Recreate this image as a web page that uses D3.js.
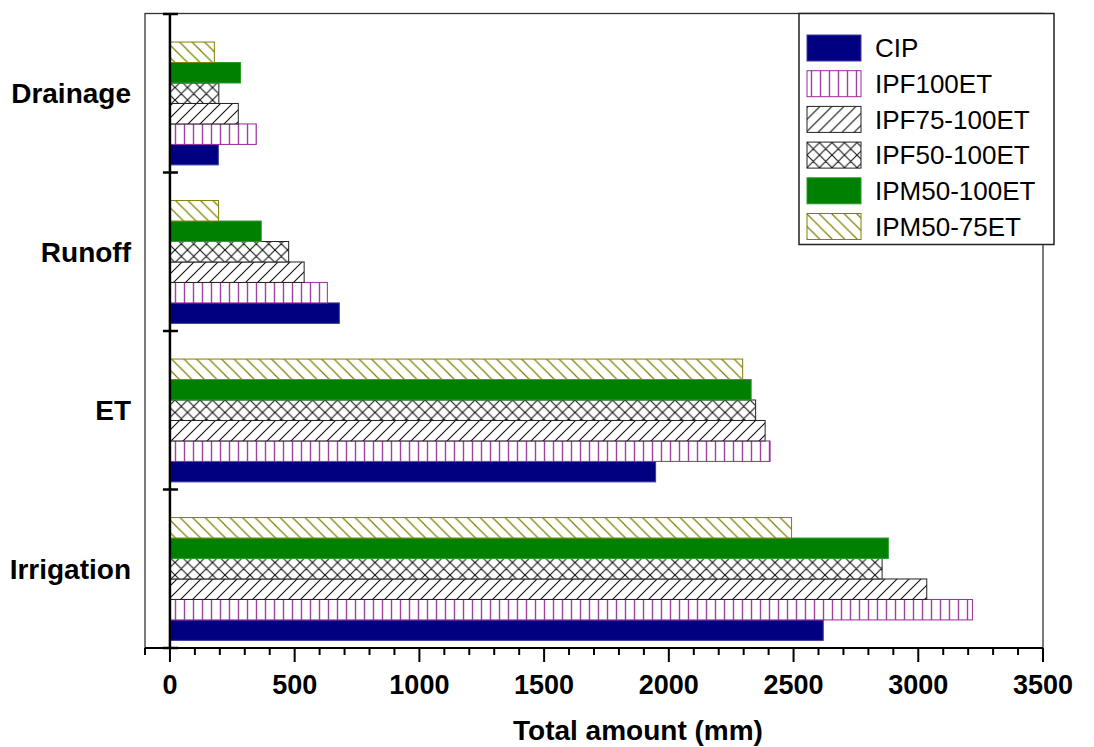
<!DOCTYPE html>
<meta charset="utf-8">
<style>
  body { margin: 0; background: white; }
  text { font-family: "Liberation Sans", Arial, sans-serif; }
  .tickLabel { font-size: 27px; font-weight: bold; }
  .axisTitle { font-size: 28px; font-weight: bold; }
  .catLabel { font-size: 28px; font-weight: bold; }
  .legendText { font-size: 26px; }
</style>
<body>
<script src="https://d3js.org/d3.v7.min.js"></script>
<script>

// categories, bottom to top as in the original plot
var categories = ["Irrigation", "ET", "Runoff", "Drainage"];

// values (mm) per category, same order as categories
var CIP         = [2619, 1947, 679, 194];
var IPF100ET    = [3217, 2406, 631, 346];
var IPF75_100ET = [3034, 2386, 538, 274];
var IPF50_100ET = [2855, 2348, 476, 196];
var IPM50_100ET = [2880, 2330, 366, 283];
var IPM50_75ET  = [2492, 2296, 195, 178];

var seriesNames = ["CIP", "IPF100ET", "IPF75-100ET", "IPF50-100ET", "IPM50-100ET", "IPM50-75ET"];
var seriesValues = [CIP, IPF100ET, IPF75_100ET, IPF50_100ET, IPM50_100ET, IPM50_75ET];

var xTicks = [0, 500, 1000, 1500, 2000, 2500, 3000, 3500];

var width = 1094, height = 747;
var plot = {left: 145, right: 1043, top: 14, bottom: 648};

var svg = d3.select("body").append("svg")
    .attr("width", width)
    .attr("height", height);

// hatch patterns
var defs = svg.append("defs");

function hatch(id, w, h, d, color, sw) {
  var p = defs.append("pattern")
      .attr("id", id)
      .attr("patternUnits", "userSpaceOnUse")
      .attr("width", w).attr("height", h);
  p.append("rect").attr("width", w).attr("height", h).attr("fill", "white");
  p.append("path").attr("d", d).attr("stroke", color)
      .attr("stroke-width", sw).attr("fill", "none");
}
hatch("pVert", 9, 10, "M4.5,0 V10", "#a040a0", 1.4);
hatch("pFwd", 12, 12, "M0,12 L12,0 M-3,3 L3,-3 M9,15 L15,9", "#111", 1.1);
hatch("pCross", 12.5, 12.5, "M0,12.5 L12.5,0 M0,0 L12.5,12.5 M-3,3 L3,-3 M9.5,15.5 L15.5,9.5 M-3,9.5 L3,15.5 M9.5,-3 L15.5,3", "#111", 1.1);
hatch("pBack", 12.5, 12.5, "M0,0 L12.5,12.5 M-3,9.5 L3,15.5 M9.5,-3 L15.5,3", "#808000", 1.2);

var styles = {
  "CIP":         {fill: "#000080", stroke: "#3a3aa0"},
  "IPF100ET":    {fill: "url(#pVert)", stroke: "#9a2a9a"},
  "IPF75-100ET": {fill: "url(#pFwd)", stroke: "#222"},
  "IPF50-100ET": {fill: "url(#pCross)", stroke: "#222"},
  "IPM50-100ET": {fill: "#008000", stroke: "#2a9a2a"},
  "IPM50-75ET":  {fill: "url(#pBack)", stroke: "#808000"}
};

// scales
var x = d3.scaleLinear().domain([-100, 3500]).range([plot.left, plot.right]);

var y = d3.scaleBand()
    .domain(categories.slice().reverse())
    .range([plot.top, plot.bottom]);

var bw = y.bandwidth();
// bars inside a group, top to bottom
var yInner = d3.scaleBand()
    .domain(seriesNames.slice().reverse())
    .range([bw * 0.177, bw * 0.952]);

// frame
svg.append("rect")
    .attr("x", plot.left).attr("y", plot.top - 0.5)
    .attr("width", plot.right - plot.left).attr("height", plot.bottom - plot.top + 0.5)
    .attr("fill", "none").attr("stroke", "#333").attr("stroke-width", 1.3);

// bars
var rows = [];
seriesNames.forEach(function(s, i) {
  categories.forEach(function(c, j) {
    rows.push({series: s, cat: c, value: seriesValues[i][j]});
  });
});

svg.append("g").selectAll("rect")
  .data(rows)
  .enter().append("rect")
    .attr("x", x(0))
    .attr("y", function(d) { return y(d.cat) + yInner(d.series); })
    .attr("width", function(d) { return x(d.value) - x(0); })
    .attr("height", yInner.bandwidth())
    .attr("fill", function(d) { return styles[d.series].fill; })
    .attr("stroke", function(d) { return styles[d.series].stroke; })
    .attr("stroke-width", 1);

// x axis
var xAxis = svg.append("g")
    .attr("transform", "translate(0," + plot.bottom + ")");

xAxis.append("line")
    .attr("x1", plot.left).attr("x2", plot.right)
    .attr("stroke", "black").attr("stroke-width", 2);

xAxis.selectAll("line.minor")
  .data(d3.range(-100, 3501, 100))
  .enter().append("line")
    .attr("class", "minor")
    .attr("x1", function(d) { return x(d); }).attr("x2", function(d) { return x(d); })
    .attr("y1", 0)
    .attr("y2", function(d) { return d % 500 === 0 ? 14 : 7; })
    .attr("stroke", "black").attr("stroke-width", 2);

xAxis.selectAll("text")
  .data(xTicks)
  .enter().append("text")
    .attr("class", "tickLabel")
    .attr("x", function(d) { return x(d); })
    .attr("y", 46)
    .attr("text-anchor", "middle")
    .text(function(d) { return d; });

svg.append("text")
    .attr("class", "axisTitle")
    .attr("x", 638).attr("y", 740)
    .attr("text-anchor", "middle")
    .text("Total amount (mm)");

// y axis at zero
var yAxis = svg.append("g");
yAxis.append("line")
    .attr("x1", x(0)).attr("x2", x(0))
    .attr("y1", plot.top).attr("y2", plot.bottom)
    .attr("stroke", "black").attr("stroke-width", 2.5);

var boundaries = categories.slice().reverse().map(function(c) { return y(c); }).concat([plot.bottom]);
yAxis.selectAll("line.tick")
  .data(boundaries)
  .enter().append("line")
    .attr("class", "tick")
    .attr("x1", x(0) - 7).attr("x2", x(0) + 8)
    .attr("y1", function(d) { return d; }).attr("y2", function(d) { return d; })
    .attr("stroke", "black").attr("stroke-width", 2.5);

yAxis.selectAll("text")
  .data(categories)
  .enter().append("text")
    .attr("class", "catLabel")
    .attr("x", 131)
    .attr("y", function(d) { return y(d) + bw / 2; })
    .attr("dy", "0.35em")
    .attr("text-anchor", "end")
    .text(function(d) { return d; });

// legend
var legend = svg.append("g");
legend.append("rect")
    .attr("x", 799).attr("y", 13.5)
    .attr("width", 255).attr("height", 231)
    .attr("fill", "white").attr("stroke", "#222").attr("stroke-width", 1.5);

var item = legend.selectAll("g.item")
  .data(seriesNames)
  .enter().append("g")
    .attr("class", "item")
    .attr("transform", function(d, i) { return "translate(807," + (48 + i * 35.7) + ")"; });

item.append("rect")
    .attr("x", 0).attr("y", -13)
    .attr("width", 54).attr("height", 26)
    .attr("fill", function(d) { return styles[d].fill; })
    .attr("stroke", function(d) { return styles[d].stroke; })
    .attr("stroke-width", 1);

item.append("text")
    .attr("class", "legendText")
    .attr("x", 68).attr("y", 0)
    .attr("dy", "0.36em")
    .text(function(d) { return d; });

</script>
</body>
